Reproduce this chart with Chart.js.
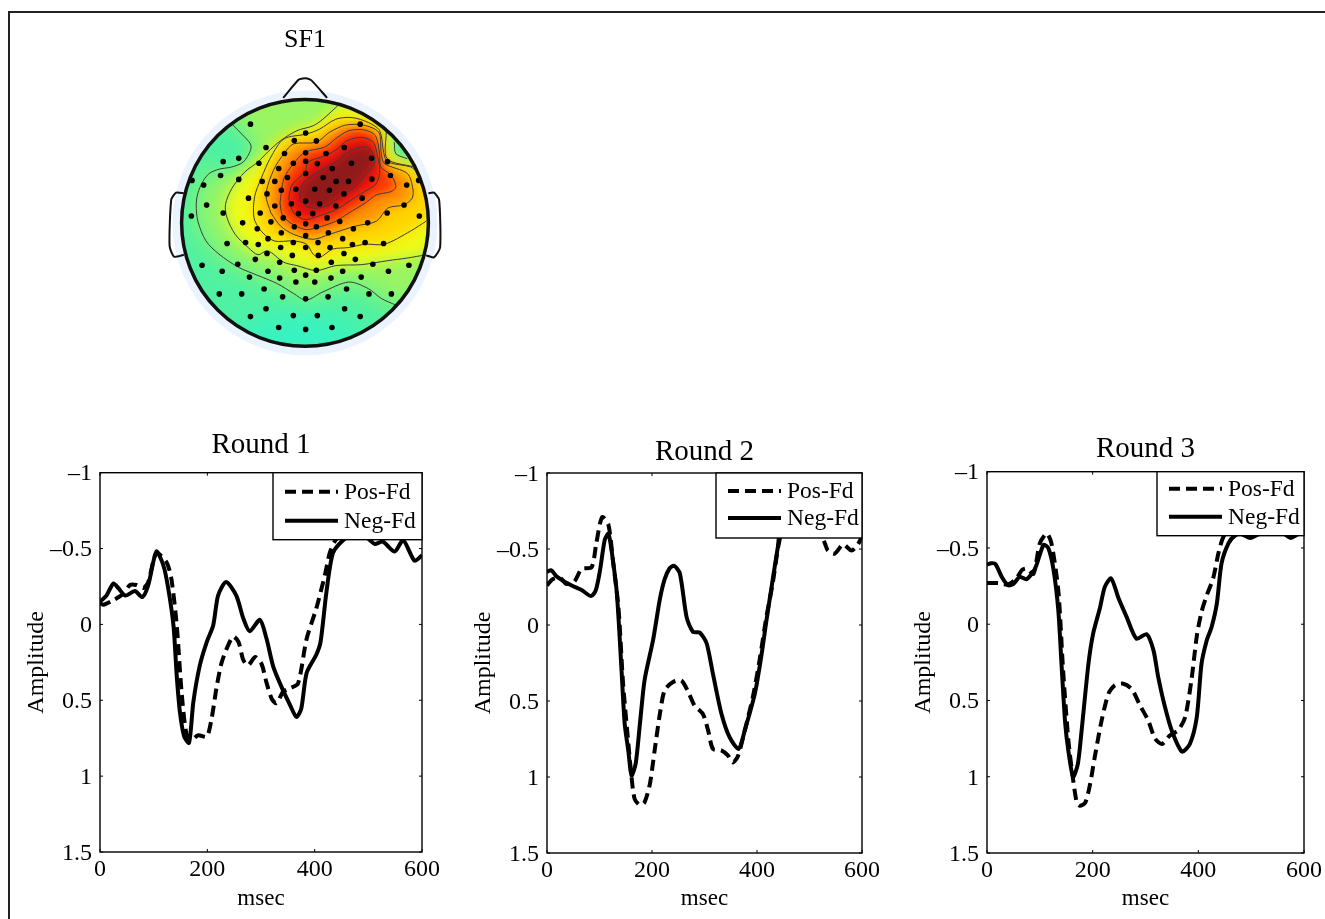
<!DOCTYPE html>
<html>
<head>
<meta charset="utf-8">
<title>SF1 rounds</title>
<script src="https://cdn.jsdelivr.net/npm/chart.js@4"></script>
<style>
  html, body { margin: 0; padding: 0; background: #fff; overflow: hidden; }
  body { width: 1325px; height: 919px; position: relative; }
  #frame { position: absolute; left: 8px; top: 11px; right: 0; bottom: 0; border-left: 2px solid #222; border-top: 2px solid #222; }
  canvas { position: absolute; }
</style>
</head>
<body>
<div id="frame"></div>
<canvas id="map" width="310" height="345" style="left:150px;top:20px"></canvas>
<canvas id="round1" width="430" height="491" style="left:15px;top:428px"></canvas>
<canvas id="round2" width="423" height="484" style="left:462px;top:435px"></canvas>
<canvas id="round3" width="423" height="487" style="left:902px;top:432px"></canvas>
<script>
const FONT = "'Liberation Serif', 'Times New Roman', serif";

const xTicks = [0, 200, 400, 600];
const yTicks = [-1, -0.5, 0, 0.5, 1, 1.5];
const seriesNames = ['Pos-Fd', 'Neg-Fd'];

const round1PosT = [0, 7, 25, 43, 56, 68, 81, 90, 105, 124, 133, 143, 152, 161, 171, 183, 199, 208, 217, 226, 236, 248, 258, 267, 276, 289, 301, 310, 320, 329, 341, 354, 369, 385, 403, 419, 428, 437, 453, 480, 510, 540, 570, 600];
const round1PosV = [-0.14, -0.13, -0.16, -0.20, -0.26, -0.26, -0.24, -0.28, -0.47, -0.41, -0.30, 0.005, 0.445, 0.72, 0.76, 0.73, 0.74, 0.62, 0.42, 0.26, 0.16, 0.08, 0.115, 0.235, 0.27, 0.215, 0.26, 0.38, 0.49, 0.52, 0.445, 0.42, 0.39, 0.095, -0.105, -0.325, -0.47, -0.545, -0.61, -0.66, -0.6, -0.58, -0.6, -0.6];
const round1NegT = [0, 3, 12, 25, 34, 47, 65, 79, 90, 105, 118, 127, 137, 143, 149, 157, 166, 174, 186, 199, 211, 220, 235, 254, 267, 279, 298, 310, 323, 338, 354, 366, 375, 385, 403, 411, 422, 434, 453, 480, 503, 512, 527, 549, 565, 586, 600];
const round1NegV = [-0.15, -0.16, -0.19, -0.27, -0.24, -0.19, -0.22, -0.18, -0.26, -0.48, -0.39, -0.24, 0.01, 0.34, 0.58, 0.74, 0.78, 0.51, 0.27, 0.115, 0.005, -0.19, -0.28, -0.19, -0.04, 0.045, -0.03, 0.09, 0.28, 0.41, 0.53, 0.61, 0.555, 0.32, 0.20, 0.115, -0.215, -0.47, -0.555, -0.62, -0.555, -0.53, -0.545, -0.48, -0.555, -0.42, -0.455];

const round2PosT = [0, 10, 25, 37, 52, 66, 85, 94, 105, 117, 126, 136, 145, 155, 161, 167, 177, 186, 196, 205, 215, 224, 240, 256, 269, 281, 297, 307, 316, 332, 345, 354, 364, 377, 392, 405, 418, 430, 441, 453, 490, 520, 529, 535, 548, 564, 580, 592, 600];
const round2PosV = [-0.26, -0.30, -0.31, -0.27, -0.285, -0.37, -0.38, -0.54, -0.71, -0.66, -0.41, -0.12, 0.39, 0.78, 1.0, 1.145, 1.185, 1.165, 1.045, 0.825, 0.585, 0.43, 0.375, 0.365, 0.44, 0.53, 0.585, 0.695, 0.815, 0.825, 0.86, 0.905, 0.86, 0.69, 0.475, 0.23, -0.055, -0.275, -0.525, -0.67, -0.75, -0.6, -0.54, -0.49, -0.47, -0.53, -0.49, -0.53, -0.58];
const round2NegT = [0, 8, 18, 31, 47, 66, 84, 93, 101, 110, 117, 123, 133, 142, 148, 155, 161, 169, 177, 186, 202, 215, 224, 233, 242, 253, 266, 278, 291, 304, 316, 332, 348, 365, 377, 396, 408, 418, 430, 440, 446, 480, 510, 540, 570, 600];
const round2NegV = [-0.35, -0.36, -0.32, -0.29, -0.26, -0.23, -0.19, -0.23, -0.36, -0.56, -0.60, -0.49, -0.21, 0.30, 0.65, 0.83, 0.99, 0.91, 0.65, 0.36, 0.10, -0.17, -0.30, -0.37, -0.39, -0.34, -0.05, 0.045, 0.05, 0.12, 0.32, 0.58, 0.74, 0.815, 0.69, 0.45, 0.21, -0.03, -0.30, -0.52, -0.65, -0.75, -0.72, -0.7, -0.7, -0.68];

const round3PosT = [0, 21, 40, 56, 66, 75, 88, 100, 113, 122, 135, 144, 154, 163, 170, 176, 186, 195, 204, 217, 230, 242, 258, 274, 290, 305, 318, 331, 346, 362, 375, 387, 397, 406, 416, 428, 438, 447, 460, 500, 550, 600];
const round3PosV = [-0.27, -0.27, -0.26, -0.30, -0.355, -0.365, -0.33, -0.53, -0.595, -0.53, -0.22, 0.30, 0.76, 1.02, 1.17, 1.19, 1.17, 1.05, 0.87, 0.63, 0.455, 0.40, 0.39, 0.425, 0.535, 0.63, 0.75, 0.785, 0.73, 0.695, 0.61, 0.365, 0.08, -0.08, -0.19, -0.30, -0.465, -0.57, -0.62, -0.62, -0.62, -0.62];
const round3NegT = [0, 8, 16, 28, 40, 50, 62, 75, 91, 107, 116, 126, 135, 141, 148, 154, 163, 172, 179, 192, 201, 214, 223, 235, 249, 264, 283, 302, 315, 324, 337, 350, 369, 384, 397, 406, 416, 425, 435, 444, 457, 469, 482, 498, 514, 539, 561, 575, 589, 600];
const round3NegV = [-0.39, -0.40, -0.395, -0.31, -0.255, -0.265, -0.31, -0.295, -0.365, -0.52, -0.50, -0.355, -0.09, 0.26, 0.65, 0.83, 1.0, 0.915, 0.70, 0.26, 0.06, -0.11, -0.245, -0.30, -0.17, -0.05, 0.095, 0.065, 0.17, 0.345, 0.545, 0.70, 0.835, 0.785, 0.61, 0.26, 0.105, 0.02, -0.135, -0.40, -0.53, -0.58, -0.59, -0.565, -0.59, -0.605, -0.595, -0.565, -0.59, -0.595];

// head map: everything below is in map units (3 units = 1 screen px)
const electrodes = [[297,315],[467,342],[635,315],[345,386],[432,365],[500,366],[586,386],[213,429],[261,419],[402,404],[467,402],[530,404],[323,434],[429,434],[467,428],[503,435],[608,434],[670,419],[719,429],[205,471],[261,483],[384,450],[467,465],[549,450],[117,486],[153,500],[333,489],[372,489],[411,477],[521,477],[561,489],[599,489],[671,482],[728,471],[815,486],[778,500],[348,527],[392,516],[437,513],[495,513],[540,516],[585,527],[641,540],[291,540],[162,561],[372,564],[423,557],[467,549],[510,557],[560,564],[770,561],[213,585],[115,594],[327,585],[445,587],[489,587],[533,600],[718,585],[817,594],[273,615],[360,612],[398,600],[467,618],[432,627],[500,627],[572,611],[658,615],[614,633],[318,633],[392,645],[467,654],[537,645],[351,663],[581,663],[225,678],[282,675],[321,681],[429,675],[467,690],[505,675],[542,690],[611,681],[650,675],[707,678],[390,690],[348,708],[312,726],[426,714],[506,714],[585,708],[620,726],[387,735],[546,735],[258,741],[148,744],[674,741],[785,744],[210,762],[351,762],[432,759],[500,759],[581,762],[722,762],[467,774],[387,783],[545,783],[294,780],[638,780],[437,795],[495,795],[339,816],[593,816],[201,831],[270,831],[396,840],[467,846],[536,840],[662,831],[731,831],[345,876],[587,876],[297,900],[429,897],[503,897],[635,900],[384,933],[467,939],[548,933]];

const contour1 = [[240,315],[270,345],[297,375],[297,395],[275,430],[240,445],[200,452],[170,465],[150,490],[135,525],[130,560],[135,610],[160,670],[200,710],[260,750],[320,775],[380,800],[430,830],[468,850],[520,825],[600,795],[660,815],[700,845],[745,865]];
const contour2 = [[838,712],[780,722],[720,730],[640,742],[560,745],[500,760],[440,745],[400,735],[350,700],[320,712],[290,690],[250,650],[225,600],[220,560],[240,510],[280,460],[320,430],[350,400],[390,365],[440,335],[490,320],[520,300],[570,255]];
const contour2b = [[715,340],[718,420],[800,445]];
const contourB = [[838,610],[790,640],[710,680],[650,680],[600,690],[550,695],[510,720],[490,710],[470,680],[430,670],[370,670],[330,640],[308,600],[310,535],[330,480],[360,415],[400,360],[470,345],[510,330],[560,300],[610,295],[660,310],[695,335],[708,405],[720,430],[790,445],[812,462]];
const contourC = [[360,585],[345,530],[368,455],[400,405],[430,375],[500,370],[540,340],[590,318],[645,318],[692,340],[700,405],[710,435],[780,465],[797,510],[795,540],[770,560],[720,570],[685,610],[620,625],[540,650],[490,665],[430,650],[390,625],[360,585]];
const contourD = [[388,555],[400,480],[430,435],[465,400],[525,385],[565,355],[600,335],[645,332],[682,350],[695,410],[698,445],[730,470],[745,505],[730,520],[685,530],[650,555],[600,585],[560,610],[500,630],[465,635],[420,615],[395,590],[388,555]];
const contourE = [[415,540],[425,500],[465,460],[475,430],[530,410],[565,390],[595,365],[640,355],[675,370],[688,410],[695,455],[685,495],[640,525],[600,550],[560,575],[505,595],[465,605],[430,585],[415,540]];
const contourF = [[450,525],[460,495],[490,470],[525,450],[560,430],[590,405],[620,390],[655,385],[675,405],[678,435],[650,470],[620,505],[580,530],[540,560],[500,570],[470,565],[450,540],[450,525]];
const islandLine = [[740,370],[745,405],[780,420]];

const nose = [[398,235],[445,180],[458,176],[472,176],[485,182],[533,235]];
const earLeft = [[92,525],[68,523],[53,545],[48,685],[62,718],[92,712]];
const earRight = [[845,525],[862,523],[878,545],[881,690],[862,720],[838,714]];

// colour patches under the contour lines, painted in this order
const patchBottom = [[260,1010],[280,925],[465,895],[610,925],[650,1010]];
const patchLeft = [[190,410],[240,345],[290,385],[265,430],[205,440]];
const patchIsland = [[740,370],[745,405],[780,420],[810,380],[760,330]];
const fieldLayers = [
  { shape: contour1.concat([[900,880],[900,180],[240,180]]), color: '#9af562', blur: 12 },
  { shape: patchBottom, color: '#32f2c8', blur: 14 },
  { shape: patchLeft, color: '#46f0aa', blur: 9 },
  { shape: contour2.concat([[640,255],[715,320]], contour2b, [[900,600]]), color: '#f0fa18', blur: 7 },
  { shape: patchIsland, color: '#66f08e', blur: 2 },
  { shape: contourB.concat([[880,540]]), color: '#ffd400', blur: 7 },
  { shape: contourC, color: '#ff9000', blur: 6 },
  { shape: contourD, color: '#ff3c00', blur: 5 },
  { shape: contourE, color: '#e81010', blur: 5 },
  { shape: contourF, color: '#901a1a', blur: 4 }
];

const headField = {
  id: 'headField',
  beforeDatasetsDraw(chart) {
    const { ctx, scales: { x, y } } = chart;
    const px = p => [x.getPixelForValue(p[0]), y.getPixelForValue(p[1])];
    const cx = x.getPixelForValue(465), cy = y.getPixelForValue(615);
    const r = x.getPixelForValue(845) - cx;
    ctx.save();
    ctx.fillStyle = '#eaf3fe';
    ctx.beginPath();
    ctx.arc(cx, cy, r + 9, 0, Math.PI * 2);
    ctx.fill();
    ctx.beginPath();
    ctx.arc(cx, cy, r, 0, Math.PI * 2);
    ctx.clip();
    ctx.fillStyle = '#50f2a2';
    ctx.fillRect(cx - r, cy - r, r * 2, r * 2);
    fieldLayers.forEach(layer => {
      ctx.filter = 'blur(' + layer.blur + 'px)';
      ctx.fillStyle = layer.color;
      ctx.beginPath();
      layer.shape.forEach((p, i) => {
        const [a, b] = px(p);
        if (i === 0) ctx.moveTo(a, b); else ctx.lineTo(a, b);
      });
      ctx.closePath();
      ctx.fill();
    });
    ctx.restore();
  },
  afterDatasetsDraw(chart) {
    const { ctx, scales: { x, y } } = chart;
    const cx = x.getPixelForValue(465), cy = y.getPixelForValue(615);
    const r = x.getPixelForValue(845) - cx;
    ctx.save();
    ctx.strokeStyle = '#111';
    ctx.lineWidth = 3.5;
    ctx.beginPath();
    ctx.arc(cx, cy, r, 0, Math.PI * 2);
    ctx.stroke();
    ctx.restore();
  }
};

const lineSet = (data, color, width, tension) => ({
  data, showLine: true, borderColor: color, borderWidth: width, tension, pointRadius: 0
});

new Chart(document.getElementById('map'), {
  type: 'scatter',
  data: {
    datasets: [
      { data: electrodes, pointRadius: 2.8, backgroundColor: '#000', borderWidth: 0, order: 0 },
      ...[contour1, contour2, contour2b, contourB, contourC, contourD, contourE, contourF, islandLine]
        .map(c => ({ ...lineSet(c, '#3c3c3c', 1, 0.3), order: 1 })),
      ...[nose, earLeft, earRight].map(c => ({ ...lineSet(c, '#111', 2, 0.2), order: 2 }))
    ]
  },
  options: {
    responsive: false,
    animation: false,
    layout: { padding: 0 },
    scales: {
      x: { display: false, min: 0, max: 930 },
      y: { display: false, min: 120, max: 1035, reverse: true }
    },
    plugins: {
      legend: { display: false },
      tooltip: { enabled: false },
      title: {
        display: true,
        text: 'SF1',
        color: '#000',
        font: { family: FONT, size: 26, weight: 'normal' },
        padding: { top: 5, bottom: 3.8 }
      }
    }
  },
  plugins: [headField]
});

// box, inward ticks and the white legend that hides the lines behind it
const matlabBox = {
  id: 'matlabBox',
  afterDatasetsDraw(chart, args, opts) {
    const { ctx, chartArea: a, scales: { x, y } } = chart;
    ctx.save();
    ctx.strokeStyle = '#000';
    ctx.lineWidth = 1.4;
    ctx.strokeRect(a.left, a.top, a.right - a.left, a.bottom - a.top);
    ctx.lineWidth = 1;
    ctx.beginPath();
    x.ticks.forEach(t => {
      const p = x.getPixelForValue(t.value);
      ctx.moveTo(p, a.top); ctx.lineTo(p, a.top + 3);
      ctx.moveTo(p, a.bottom); ctx.lineTo(p, a.bottom - 3);
    });
    y.ticks.forEach(t => {
      const p = y.getPixelForValue(t.value);
      ctx.moveTo(a.left, p); ctx.lineTo(a.left + 3, p);
      ctx.moveTo(a.right, p); ctx.lineTo(a.right - 3, p);
    });
    ctx.stroke();

    const left = a.right - opts.boxW;
    ctx.fillStyle = '#fff';
    ctx.fillRect(left, a.top, opts.boxW, opts.boxH);
    ctx.lineWidth = 1.4;
    ctx.strokeRect(left, a.top, opts.boxW, opts.boxH);
    ctx.font = '23.5px ' + FONT;
    ctx.fillStyle = '#000';
    ctx.textBaseline = 'middle';
    chart.data.datasets.forEach((ds, i) => {
      const rowY = a.top + opts.rows[i];
      ctx.strokeStyle = '#000';
      ctx.lineWidth = ds.borderWidth;
      ctx.setLineDash(ds.borderDash || []);
      ctx.beginPath();
      ctx.moveTo(left + 12, rowY);
      ctx.lineTo(left + 65, rowY);
      ctx.stroke();
      ctx.setLineDash([]);
      ctx.fillText(ds.label, left + 71, rowY + 1);
    });
    ctx.restore();
  }
};

function zip(ts, vs) {
  return ts.map((t, i) => ({ x: t, y: vs[i] }));
}

function roundChart(id, title, posT, posV, negT, negV, place) {
  const axisFont = { family: FONT, size: 24, weight: 'normal' };
  new Chart(document.getElementById(id), {
    type: 'line',
    data: {
      datasets: [
        { label: seriesNames[0], data: zip(posT, posV), borderColor: '#000', borderWidth: 4, borderDash: [11, 6], tension: 0.25, pointRadius: 0, order: 2 },
        { label: seriesNames[1], data: zip(negT, negV), borderColor: '#000', borderWidth: 4, tension: 0.25, pointRadius: 0, order: 1 }
      ]
    },
    options: {
      responsive: false,
      animation: false,
      layout: { padding: { right: place.right } },
      scales: {
        x: {
          type: 'linear',
          min: 0,
          max: 600,
          afterBuildTicks: s => { s.ticks = xTicks.map(v => ({ value: v })); },
          afterFit: s => { s.height = place.xHeight; },
          grid: { display: false, drawTicks: false },
          border: { display: false },
          ticks: { color: '#000', font: axisFont, padding: 3, maxRotation: 0 },
          title: { display: true, text: 'msec', color: '#000', font: { ...axisFont, size: 23 }, padding: { top: 0, bottom: 6 } }
        },
        y: {
          min: -1,
          max: 1.5,
          reverse: true,
          afterBuildTicks: s => { s.ticks = yTicks.map(v => ({ value: v })); },
          afterFit: s => { s.width = 85; },
          grid: { display: false, drawTicks: false },
          border: { display: false },
          ticks: {
            color: '#000',
            font: axisFont,
            padding: 8,
            labelOffset: 1.5,
            callback: v => (v < 0 ? '\u2013' + Math.abs(v) : String(v))
          },
          title: { display: true, text: 'Amplitude', color: '#000', font: axisFont, padding: { top: 7, bottom: 0 } }
        }
      },
      plugins: {
        legend: { display: false },
        tooltip: { enabled: false },
        title: {
          display: true,
          text: title,
          fullSize: false,
          color: '#000',
          font: { family: FONT, size: 29, weight: 'normal' },
          padding: { top: 0, bottom: place.titleGap }
        },
        matlabBox: { boxW: place.boxW, boxH: place.boxH, rows: place.rows }
      }
    },
    plugins: [matlabBox]
  });
}

roundChart('round1', 'Round 1', round1PosT, round1PosV, round1NegT, round1NegV,
  { right: 23, xHeight: 67, titleGap: 9.9, boxW: 149, boxH: 67, rows: [19, 48] });
roundChart('round2', 'Round 2', round2PosT, round2PosV, round2NegT, round2NegV,
  { right: 23, xHeight: 66, titleGap: 3.2, boxW: 146, boxH: 65, rows: [18, 45] });
roundChart('round3', 'Round 3', round3PosT, round3PosV, round3NegT, round3NegV,
  { right: 21, xHeight: 66, titleGap: 4.9, boxW: 147, boxH: 64, rows: [17, 45] });
</script>
</body>
</html>
